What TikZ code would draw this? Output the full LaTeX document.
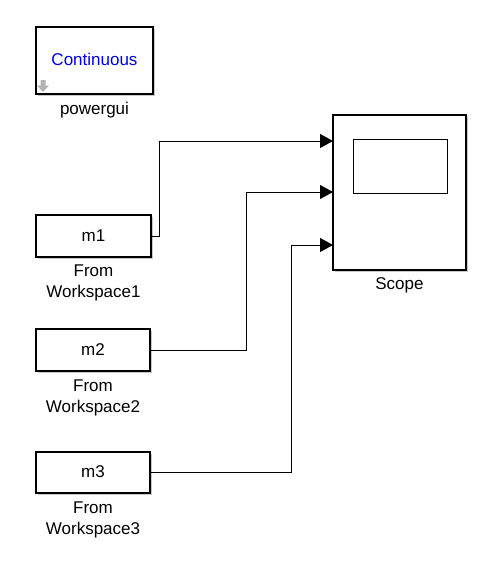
\documentclass[tikz,border=0pt]{standalone}
\usepackage{fontspec}
\setmainfont{Liberation Sans}
\usetikzlibrary{arrows.meta}
\begin{document}
\begin{tikzpicture}[x=1pt,y=-1pt,
  shadowc/.style={fill=black!22},
  lbl/.style={font=\fontsize{17}{21.5}\selectfont,align=center,inner sep=0pt},
  sig/.style={line width=0.9pt,-{Triangle[length=13pt,width=14pt]}}]
\useasboundingbox[fill=white] (0,0) rectangle (492,582);
% shadows
\fill[shadowc] (38,29) rectangle (155,96);
\fill[shadowc] (335,117) rectangle (468,272);
\fill[shadowc] (38,217) rectangle (153,259);
\fill[shadowc] (38,331) rectangle (152,373);
\fill[shadowc] (38,454) rectangle (152,495);
% powergui
\draw[line width=1.1pt,fill=white] (36,27) rectangle (153,94);
\node[lbl,text={rgb,255:red,0;green,0;blue,220}] (pg) at (94.5,59) {Continuous};
\fill[black!30] (40.5,80) -- (45.5,80) -- (45.5,85.5) -- (49,85.5) -- (43,92) -- (37,85.5) -- (40.5,85.5) -- cycle;
\node[lbl] (pgl) at (94.5,110) {powergui};
% scope
\draw[line width=1.1pt,fill=white] (333,115) rectangle (466,270);
\draw[line width=0.9pt] (353,139) rectangle (447,193);
\node[lbl] (scl) at (399.5,285) {Scope};
\coordinate (in1) at (333,141);
\coordinate (in2) at (333,192);
\coordinate (in3) at (333,245);
% from workspace blocks
\draw[line width=1.1pt,fill=white] (36,215) rectangle (151,257);
\node[lbl] (m1) at (93.5,236) {m1};
\coordinate (o1) at (151,236);
\node[lbl] (w1) at (93.5,283) {From\\Workspace1};
\draw[line width=1.1pt,fill=white] (36,329) rectangle (150,371);
\node[lbl] (m2) at (93,350) {m2};
\coordinate (o2) at (150,350);
\node[lbl] (w2) at (93,398) {From\\Workspace2};
\draw[line width=1.1pt,fill=white] (36,452) rectangle (150,493);
\node[lbl] (m3) at (93,472) {m3};
\coordinate (o3) at (150,472);
\node[lbl] (w3) at (93,520) {From\\Workspace3};
% signals
\draw[sig] (o1) -- (159,236) -- (159,141) -- (in1);
\draw[sig] (o2) -- (246,350) -- (246,192) -- (in2);
\draw[sig] (o3) -- (291,472) -- (291,245) -- (in3);
\end{tikzpicture}
\end{document}
